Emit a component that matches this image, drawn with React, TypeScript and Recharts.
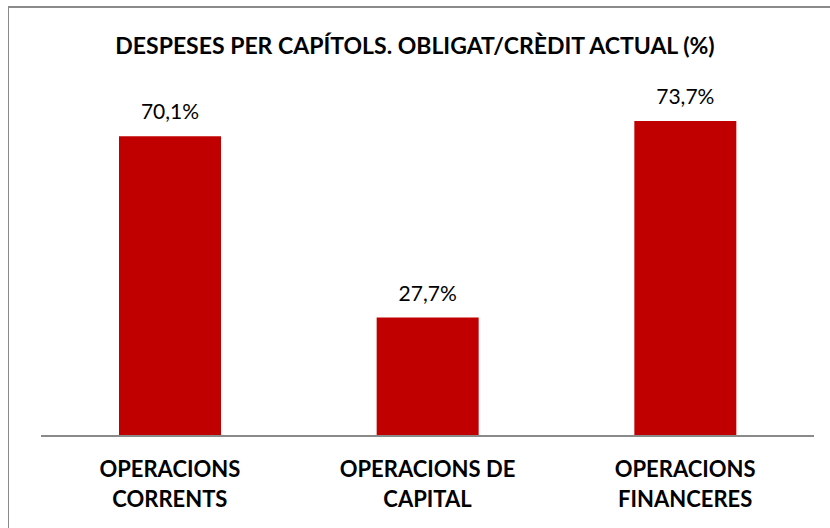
import React from 'react';
import { BarChart, Bar, XAxis, YAxis, LabelList } from 'recharts';

const categories = ['OPERACIONS CORRENTS', 'OPERACIONS DE CAPITAL', 'OPERACIONS FINANCERES'];
const categoryLines = [
  ['OPERACIONS', 'CORRENTS'],
  ['OPERACIONS DE', 'CAPITAL'],
  ['OPERACIONS', 'FINANCERES'],
];
const values = [70.1, 27.7, 73.7];
const title = 'DESPESES PER CAPÍTOLS. OBLIGAT/CRÈDIT ACTUAL (%)';

const data = categories.map((name, i) => ({ name, value: values[i] }));

const FONT = 'Lato, "Open Sans", sans-serif';

const CategoryTick = (props: any) => {
  const { x, y, payload } = props;
  const lines = categoryLines[payload.index] ?? [payload.value];
  return (
    <g transform={`translate(${x},${y})`}>
      {lines.map((line: string, i: number) => (
        <text
          key={i}
          x={0}
          y={33 + i * 30}
          textAnchor="middle"
          fontFamily={FONT}
          fontWeight={700}
          fontSize={22}
          fill="#000"
        >
          {line}
        </text>
      ))}
    </g>
  );
};

export default function App() {
  return (
    <div
      style={{
        position: 'absolute',
        left: 8,
        top: 6,
        width: 822,
        height: 522,
        overflow: 'hidden',
        background: '#fff',
      }}
    >
      <svg width={822} height={70} style={{ position: 'absolute', left: 0, top: 0 }}>
        <line x1={0} y1={1} x2={822} y2={1} stroke="#8a8a8a" strokeWidth={2} />
        <text
          x={407}
          y={48}
          textAnchor="middle"
          fontFamily={FONT}
          fontWeight={700}
          fontSize={23}
          fill="#000"
        >
          {title}
        </text>
      </svg>
      <div style={{ position: 'absolute', left: 0, top: 0 }}>
        <BarChart
          width={822}
          height={522}
          data={data}
          margin={{ top: 88, right: 16, left: 33, bottom: 0 }}
        >
          <XAxis
            dataKey="name"
            axisLine={{ stroke: '#8a8a8a', strokeWidth: 2 }}
            tickLine={false}
            tick={<CategoryTick />}
            interval={0}
            height={92}
          />
          <YAxis hide domain={[0, 80]} />
          <Bar dataKey="value" fill="#C00000" barSize={102} isAnimationActive={false}>
            <LabelList
              dataKey="value"
              position="top"
              offset={17}
              formatter={(v: any) => `${Number(v).toFixed(1).replace('.', ',')}%`}
              style={{ fontFamily: FONT, fontSize: 21, fill: '#000' }}
            />
          </Bar>
        </BarChart>
      </div>
      <div
        style={{
          position: 'absolute',
          left: 0,
          top: 0,
          width: 1,
          height: 560,
          background: '#8a8a8a',
          pointerEvents: 'none',
        }}
      />
    </div>
  );
}
